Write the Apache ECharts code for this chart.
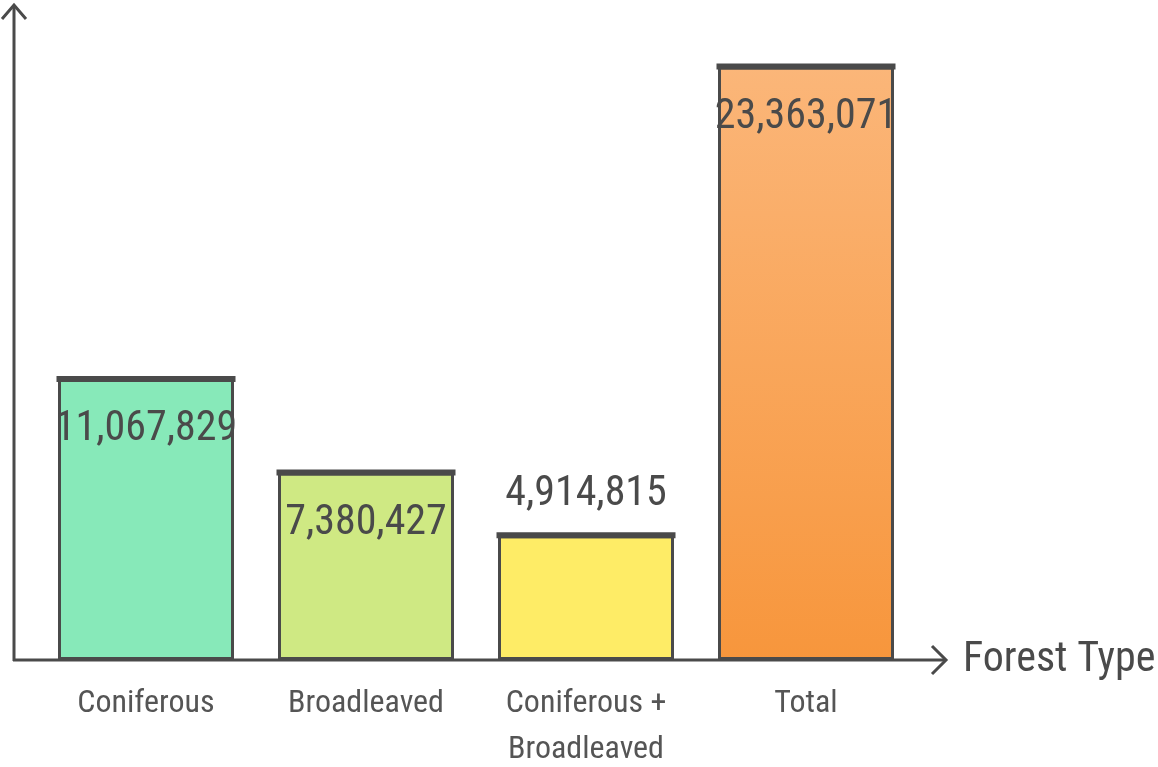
<!DOCTYPE html>
<html>
<head>
<meta charset="utf-8">
<script src="https://cdn.jsdelivr.net/npm/echarts@6/dist/echarts.min.js"></script>
<style>
html,body{margin:0;padding:0;background:#fff;}
#chart{width:1158px;height:767px;}
</style>
</head>
<body>
<div id="chart"></div>
<script>
var categories = ['Coniferous', 'Broadleaved', 'Coniferous +\nBroadleaved', 'Total'];
var values = [11067829, 7380427, 4914815, 23363071];
var labelInside = [true, true, false, true];
var xAxisName = 'Forest Type';

var FONT = '"Liberation Sans Narrow", "Roboto Condensed", Roboto, sans-serif';
var fills = [
  '#87E9B9',
  '#CFE983',
  '#FEEC66',
  new echarts.graphic.LinearGradient(0, 0, 0, 1, [
    {offset: 0, color: '#FBB679'},
    {offset: 1, color: '#F7963C'}
  ])
];

var chart = echarts.init(document.getElementById('chart'));
var barData = values.map(function (v, i) {
  return {
    value: v,
    itemStyle: {color: fills[i]},
    label: labelInside[i]
      ? {position: 'insideTop', distance: 30}
      : {position: 'top', distance: 20}
  };
});

chart.setOption({
  animation: false,
  grid: {left: 36, right: 242, top: 25, bottom: 107, outerBoundsMode: 'none', containLabel: false},
  xAxis: {
    type: 'category',
    data: categories,
    name: xAxisName,
    nameLocation: 'end',
    nameGap: 47,
    nameTextStyle: {fontFamily: FONT, fontSize: 42, color: '#4a4a4a', verticalAlign: 'middle'},
    axisLine: {show: false},
    axisTick: {show: false},
    axisLabel: {interval: 0, fontFamily: FONT, fontSize: 32, lineHeight: 46, color: '#555', margin: 21}
  },
  yAxis: {
    type: 'value',
    min: 0,
    max: 25000000,
    axisLine: {show: false},
    axisTick: {show: false},
    axisLabel: {show: false},
    splitLine: {show: false}
  },
  series: [
    {
      type: 'bar',
      data: barData,
      barWidth: 176,
      itemStyle: {borderColor: '#4a4a4a', borderWidth: 3},
      label: {
        show: true,
        fontFamily: FONT,
        fontSize: 42,
        color: '#4a4a4a',
        formatter: function (p) { return p.value.toLocaleString('en-US'); }
      },
      z: 2
    },
    {
      type: 'scatter',
      data: values,
      symbol: 'rect',
      symbolSize: [179, 6],
      itemStyle: {color: '#4a4a4a', opacity: 1},
      silent: true,
      z: 3
    }
  ],
  graphic: [
    {type: 'line', shape: {x1: 14, y1: 5, x2: 14, y2: 661}, style: {stroke: '#4a4a4a', lineWidth: 3}, z: 10},
    {type: 'polyline', shape: {points: [[2, 19], [14, 5], [26, 19]]}, style: {stroke: '#4a4a4a', lineWidth: 3, fill: null}, z: 10},
    {type: 'line', shape: {x1: 13, y1: 660, x2: 946, y2: 660}, style: {stroke: '#4a4a4a', lineWidth: 3}, z: 10},
    {type: 'polyline', shape: {points: [[932, 646], [946, 660], [932, 674]]}, style: {stroke: '#4a4a4a', lineWidth: 3, fill: null}, z: 10}
  ]
});
</script>
</body>
</html>
